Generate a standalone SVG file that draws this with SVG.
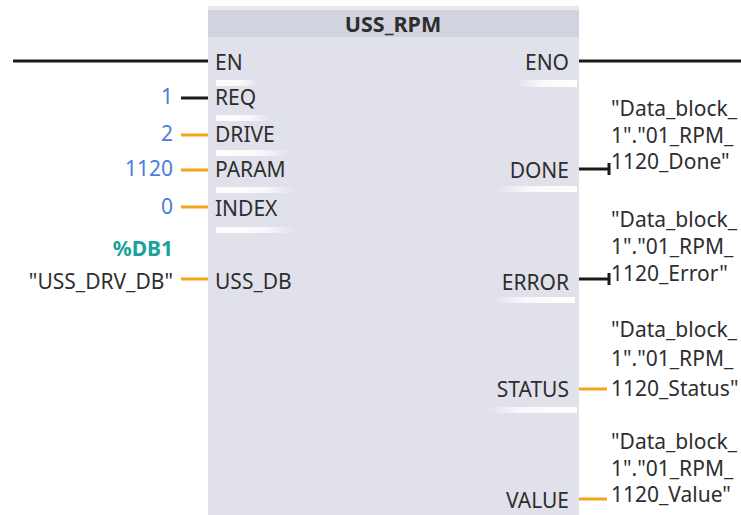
<svg xmlns="http://www.w3.org/2000/svg" width="741" height="515" viewBox="0 0 741 515">
<style>
text{font-family:"Noto Sans","Open Sans","Liberation Sans",sans-serif;font-size:21px;fill:#2e2e2e}
.r{text-anchor:end}
.val{fill:#4a7ddc}
.db{fill:#1aa39a;font-weight:bold}
.title{font-weight:bold;text-anchor:middle;font-size:21.5px}
.blk{stroke:#1a1a1a;stroke-width:3;fill:none}
.org{stroke:#f5a51c;stroke-width:3;fill:none}
.bl{fill:url(#gl)}
.br{fill:url(#gr)}
</style>
<defs>
<linearGradient id="gl" x1="0" x2="1" y1="0" y2="0"><stop offset="0" stop-color="#fff" stop-opacity="1"/><stop offset="0.6" stop-color="#fff" stop-opacity="0.8"/><stop offset="1" stop-color="#fff" stop-opacity="0"/></linearGradient>
<linearGradient id="gr" x1="0" x2="1" y1="0" y2="0"><stop offset="0" stop-color="#fff" stop-opacity="0"/><stop offset="0.4" stop-color="#fff" stop-opacity="0.8"/><stop offset="1" stop-color="#fff" stop-opacity="1"/></linearGradient>
</defs>
<rect width="741" height="515" fill="#fff"/>
<g id="block">
<rect x="208" y="6" width="371" height="515" fill="#e0e1ea"/>
<rect x="208" y="6" width="371" height="4" fill="#e8e9ef"/>
<rect x="208" y="10" width="371" height="27" fill="#d1d3de"/>
<text class="title" x="393" y="32">USS_RPM</text>
<rect class="bl" x="216" y="80" width="42" height="6"/>
<rect class="bl" x="216" y="115" width="55" height="6"/>
<rect class="bl" x="216" y="150" width="74" height="6"/>
<rect class="bl" x="216" y="187" width="79" height="6"/>
<rect class="bl" x="216" y="227" width="79" height="6"/>
<rect class="br" x="517" y="80" width="60" height="7"/>
<rect class="br" x="495" y="186" width="82" height="6"/>
<rect class="br" x="493" y="297" width="82" height="6"/>
<rect class="br" x="485" y="407" width="92" height="6"/>
<text x="215" y="70">EN</text>
<text x="215" y="105">REQ</text>
<text x="215" y="142">DRIVE</text>
<text x="215" y="177">PARAM</text>
<text x="215" y="216">INDEX</text>
<text x="215" y="289">USS_DB</text>
<text class="r" x="569" y="70">ENO</text>
<text class="r" x="569" y="178">DONE</text>
<text class="r" x="569" y="290">ERROR</text>
<text class="r" x="569" y="397">STATUS</text>
<text class="r" x="569" y="508">VALUE</text>
</g>
<g id="connectors">
<line class="blk" x1="13" y1="61" x2="208" y2="61"/>
<line class="blk" x1="181" y1="98" x2="208" y2="98"/>
<line class="org" x1="181" y1="135" x2="208" y2="135"/>
<line class="org" x1="181" y1="170" x2="208" y2="170"/>
<line class="org" x1="181" y1="207" x2="208" y2="207"/>
<line class="org" x1="181" y1="279" x2="208" y2="279"/>
<line class="blk" x1="579" y1="61" x2="741" y2="61"/>
<path class="blk" d="M579 169H609M609 163V175"/>
<path class="blk" d="M579 279H609M609 273V285"/>
<line class="org" x1="579" y1="389" x2="607" y2="389"/>
<line class="org" x1="579" y1="499" x2="607" y2="499"/>
</g>
<g id="inputs">
<text class="val r" x="173" y="104">1</text>
<text class="val r" x="173" y="141">2</text>
<text class="val r" x="173" y="176">1120</text>
<text class="val r" x="173" y="214">0</text>
<text class="db r" x="173" y="256">%DB1</text>
<text class="r" x="173" y="289">"USS_DRV_DB"</text>
</g>
<g id="outputs">
<text x="611" y="116">"Data_block_</text>
<text x="611" y="143">1"."01_RPM_</text>
<text x="611" y="169">1120_Done"</text>
<text x="611" y="227">"Data_block_</text>
<text x="611" y="254">1"."01_RPM_</text>
<text x="611" y="281">1120_Error"</text>
<text x="611" y="337">"Data_block_</text>
<text x="611" y="366">1"."01_RPM_</text>
<text x="611" y="396">1120_Status"</text>
<text x="611" y="449">"Data_block_</text>
<text x="611" y="476">1"."01_RPM_</text>
<text x="611" y="502">1120_Value"</text>
</g>
</svg>
